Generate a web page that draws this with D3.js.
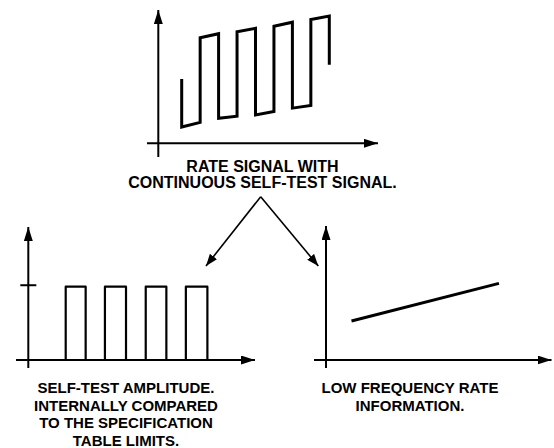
<!DOCTYPE html>
<html>
<head>
<meta charset="utf-8">
<script src="https://cdn.jsdelivr.net/npm/d3@7"></script>
<style>
  html, body { margin: 0; padding: 0; background: #fff; }
  svg { display: block; }
  text { font-family: "Liberation Sans", Arial, Helvetica, sans-serif; font-weight: bold; fill: #000; }
</style>
</head>
<body>
<svg id="chart" width="554" height="448"></svg>
<script>
// ---------------- DATA ----------------
// Top panel: rate signal with continuous self-test square wave (time in half-periods, level in arbitrary units)
const rateTime  = [0, 0, 1, 1, 2, 2, 3, 3, 4, 4, 5, 5, 6, 6, 7, 7, 8, 8];
const rateLevel = [4.75, 1.2, 1.55, 7.8, 8.1, 1.85, 2.0, 8.25, 8.5, 2.1, 2.35, 8.65, 8.95, 2.6, 2.8, 9.15, 9.4, 5.8];

// Bottom-left panel: self-test amplitude pulses
const pulseStart = [16.5, 33.8, 51.8, 69.5];
const pulseEnd   = [25.3, 43.1, 60.9, 79.0];
const pulseBaseStart = 7.4;
const pulseHigh = 1;
const specLimit = [1.02];

// Bottom-right panel: low frequency rate information
const lowFreqTime  = [11.3, 76.7];
const lowFreqLevel = [2.91, 5.72];

// Captions
const topCaption   = ["RATE SIGNAL WITH", "CONTINUOUS SELF-TEST SIGNAL."];
const leftCaption  = ["SELF-TEST AMPLITUDE.", "INTERNALLY COMPARED", "TO THE SPECIFICATION", "TABLE LIMITS."];
const rightCaption = ["LOW FREQUENCY RATE", "INFORMATION."];

// ---------------- DRAWING ----------------
const svg = d3.select("#chart");
const defs = svg.append("defs");

function arrowMarker(id, len, halfW) {
  defs.append("marker")
    .attr("id", id)
    .attr("viewBox", `0 ${-halfW} ${len} ${2 * halfW}`)
    .attr("refX", len).attr("refY", 0)
    .attr("markerUnits", "userSpaceOnUse")
    .attr("markerWidth", len).attr("markerHeight", 2 * halfW)
    .attr("orient", "auto")
    .append("path")
    .attr("d", `M0,${-halfW}L${len},0L0,${halfW}Z`)
    .attr("fill", "#000");
}
arrowMarker("axisArrow", 14, 4.5);
arrowMarker("leadArrow", 12, 4.5);

function drawAxes(p) {
  const g = svg.append("g");
  g.append("line")
    .attr("x1", p.xAxisStart).attr("y1", p.oy)
    .attr("x2", p.xAxisEnd).attr("y2", p.oy)
    .attr("stroke", "#000").attr("stroke-width", 2)
    .attr("marker-end", "url(#axisArrow)");
  g.append("line")
    .attr("x1", p.ox).attr("y1", p.yAxisBottom)
    .attr("x2", p.ox).attr("y2", p.yAxisTop)
    .attr("stroke", "#000").attr("stroke-width", 2)
    .attr("marker-end", "url(#axisArrow)");
  return g;
}

function caption(lines, cx, firstBaseline, lineStep, size) {
  svg.append("text")
    .attr("text-anchor", "middle")
    .attr("font-size", size)
    .selectAll("tspan")
    .data(lines)
    .join("tspan")
    .attr("x", cx)
    .attr("y", (d, i) => firstBaseline + i * lineStep)
    .text(d => d);
}

// ---- Top panel ----
const topP = { ox: 158.3, oy: 143.3, xAxisStart: 147, xAxisEnd: 378, yAxisBottom: 157, yAxisTop: 10 };
drawAxes(topP);
const xTop = d3.scaleLinear().domain([0, 8]).range([181.7, 329.3]);
const yTop = d3.scaleLinear().domain([0, 10]).range([topP.oy, 8]);
svg.append("path")
  .datum(d3.zip(rateTime, rateLevel))
  .attr("d", d3.line().x(d => xTop(d[0])).y(d => yTop(d[1])))
  .attr("fill", "none").attr("stroke", "#000").attr("stroke-width", 3)
  .attr("stroke-linejoin", "miter");
caption(topCaption, 262.5, 171.5, 16, 16);

// ---- Bottom-left panel ----
const leftP = { ox: 28.3, oy: 360, xAxisStart: 16, xAxisEnd: 255, yAxisBottom: 368, yAxisTop: 227 };
drawAxes(leftP);
const xLeft = d3.scaleLinear().domain([0, 100]).range([leftP.ox, 255]);
const yLeft = d3.scaleLinear().domain([0, 1]).range([leftP.oy, 286.7]);
const pulsePts = [[pulseBaseStart, 0]];
pulseStart.forEach((s, i) => {
  pulsePts.push([s, 0], [s, pulseHigh], [pulseEnd[i], pulseHigh], [pulseEnd[i], 0]);
});
svg.append("path")
  .datum(pulsePts)
  .attr("d", d3.line().x(d => xLeft(d[0])).y(d => yLeft(d[1])))
  .attr("fill", "none").attr("stroke", "#000").attr("stroke-width", 2.2)
  .attr("stroke-linejoin", "round");
svg.selectAll(".spec-tick")
  .data(specLimit)
  .join("line")
  .attr("class", "spec-tick")
  .attr("x1", leftP.ox - 8).attr("x2", leftP.ox + 8)
  .attr("y1", d => yLeft(d)).attr("y2", d => yLeft(d))
  .attr("stroke", "#000").attr("stroke-width", 2);
caption(leftCaption, 126, 393, 17.6, 15);

// ---- Bottom-right panel ----
const rightP = { ox: 326, oy: 360, xAxisStart: 314, xAxisEnd: 551.5, yAxisBottom: 368, yAxisTop: 226 };
drawAxes(rightP);
const xRight = d3.scaleLinear().domain([0, 100]).range([rightP.ox, 551.5]);
const yRight = d3.scaleLinear().domain([0, 10]).range([rightP.oy, 226]);
svg.append("path")
  .datum(d3.zip(lowFreqTime, lowFreqLevel))
  .attr("d", d3.line().x(d => xRight(d[0])).y(d => yRight(d[1])))
  .attr("fill", "none").attr("stroke", "#000").attr("stroke-width", 3);
caption(rightCaption, 410, 393, 17.6, 15);

// ---- Leader arrows from top caption to both lower panels ----
const apex = [260.7, 196.7];
[[206, 266], [318.3, 266]].forEach(tip => {
  svg.append("line")
    .attr("x1", apex[0]).attr("y1", apex[1])
    .attr("x2", tip[0]).attr("y2", tip[1])
    .attr("stroke", "#000").attr("stroke-width", 1.6)
    .attr("marker-end", "url(#leadArrow)");
});
</script>
</body>
</html>
